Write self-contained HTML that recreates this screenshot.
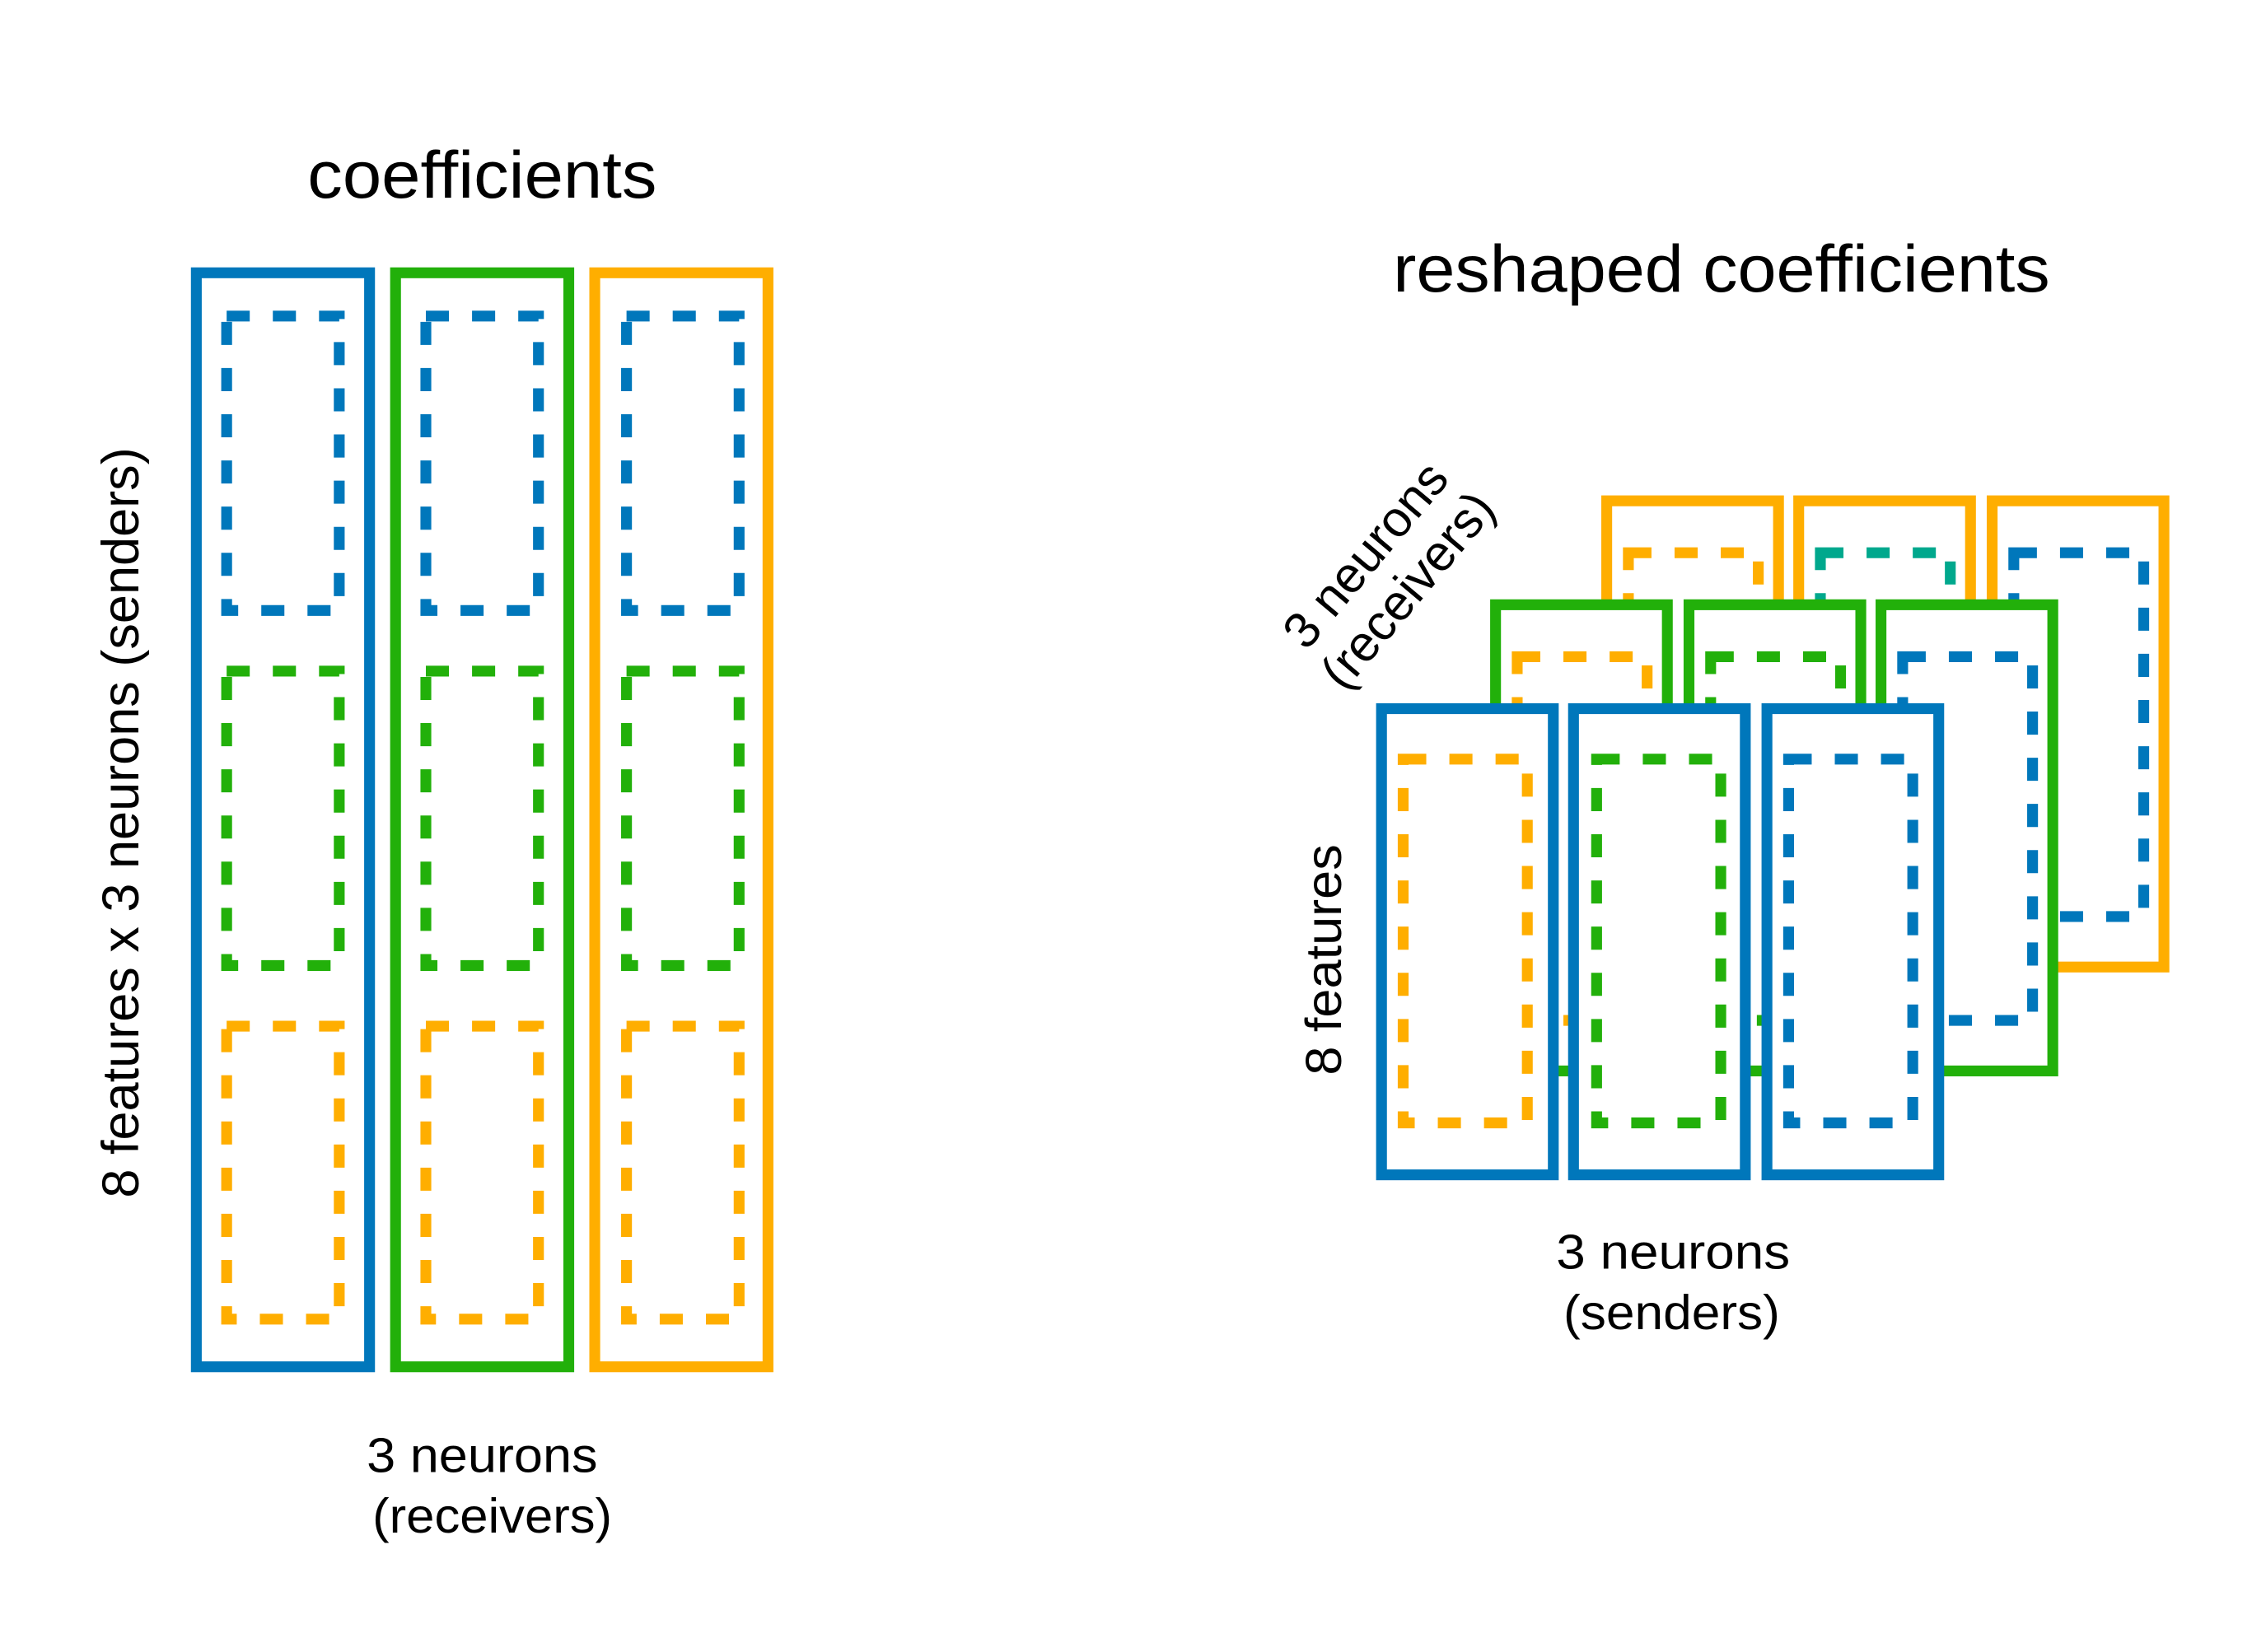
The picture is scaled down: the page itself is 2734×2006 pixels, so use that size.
<!DOCTYPE html>
<html><head><meta charset="utf-8"><style>html,body{margin:0;padding:0;background:#fff}svg{display:block}</style></head>
<body>
<svg width="2734" height="2006" viewBox="0 0 1560 1144.6" xmlns="http://www.w3.org/2000/svg" font-family="Liberation Sans, Arial, sans-serif">
<defs>
<style>
.o{fill:#fff;stroke-width:7.5}
.d{fill:none;stroke-width:7.5;stroke-dasharray:16 16}
.b{stroke:#0077bb}.g{stroke:#22b00a}.y{stroke:#ffae00}.t{stroke:#00a88d}
</style>
</defs>
<rect width="1560" height="1144.6" fill="#fff"/>
<!-- left -->
<text x="213" y="137" font-size="46" textLength="242" lengthAdjust="spacingAndGlyphs">coefficients</text>
<rect class="o b" x="136" y="189" width="120" height="758"/>
<rect class="o g" x="274" y="189" width="120" height="758"/>
<rect class="o y" x="412" y="189" width="120" height="758"/>
<g>
<rect class="d b" x="157" y="219" width="78" height="204"/>
<rect class="d g" x="157" y="465" width="78" height="204"/>
<rect class="d y" x="157" y="711" width="78" height="203"/>
<rect class="d b" x="295" y="219" width="78" height="204"/>
<rect class="d g" x="295" y="465" width="78" height="204"/>
<rect class="d y" x="295" y="711" width="78" height="203"/>
<rect class="d b" x="434" y="219" width="78" height="204"/>
<rect class="d g" x="434" y="465" width="78" height="204"/>
<rect class="d y" x="434" y="711" width="78" height="203"/>
</g>
<text transform="translate(96,830) rotate(-90)" font-size="36" textLength="520" lengthAdjust="spacingAndGlyphs">8 features x 3 neurons (senders)</text>
<text x="254" y="1020" font-size="34" textLength="160" lengthAdjust="spacingAndGlyphs">3 neurons</text>
<text x="258" y="1062" font-size="34" textLength="166" lengthAdjust="spacingAndGlyphs">(receivers)</text>
<!-- right -->
<text x="965" y="202" font-size="46" textLength="455" lengthAdjust="spacingAndGlyphs">reshaped coefficients</text>
<g transform="translate(-4,-2)">
<!-- back row -->
<rect class="o y" x="1117" y="349" width="119" height="323"/>
<rect class="d y" x="1132" y="385" width="90" height="252"/>
<rect class="o y" x="1250" y="349" width="119" height="323"/>
<rect class="d t" x="1265" y="385" width="90" height="252"/>
<rect class="o y" x="1384" y="349" width="119" height="323"/>
<rect class="d b" x="1399" y="385" width="90" height="252"/>
<!-- middle row -->
<rect class="o g" x="1040" y="421" width="119" height="323"/>
<rect class="d y" x="1055" y="457" width="90" height="252"/>
<rect class="o g" x="1174" y="421" width="119" height="323"/>
<rect class="d g" x="1189" y="457" width="90" height="252"/>
<rect class="o g" x="1307" y="421" width="119" height="323"/>
<rect class="d b" x="1322" y="457" width="90" height="252"/>
<!-- front row -->
<rect class="o b" x="961" y="493" width="119" height="323"/>
<rect class="d y" x="976" y="528" width="86" height="252"/>
<rect class="o b" x="1094" y="493" width="119" height="323"/>
<rect class="d g" x="1110" y="528" width="86" height="252"/>
<rect class="o b" x="1228" y="493" width="119" height="323"/>
<rect class="d b" x="1243" y="528" width="86" height="252"/>
</g>
<text transform="translate(929,745) rotate(-90)" font-size="35" textLength="160" lengthAdjust="spacingAndGlyphs">8 features</text>
<g transform="translate(955,392) rotate(-50)" font-size="35" text-anchor="middle">
<text x="0" y="0">3 neurons</text>
<text x="0" y="38">(receivers)</text>
</g>
<text x="1078" y="879" font-size="34" textLength="162" lengthAdjust="spacingAndGlyphs">3 neurons</text>
<text x="1083" y="921" font-size="34" textLength="150" lengthAdjust="spacingAndGlyphs">(senders)</text>
</svg>
</body></html>
